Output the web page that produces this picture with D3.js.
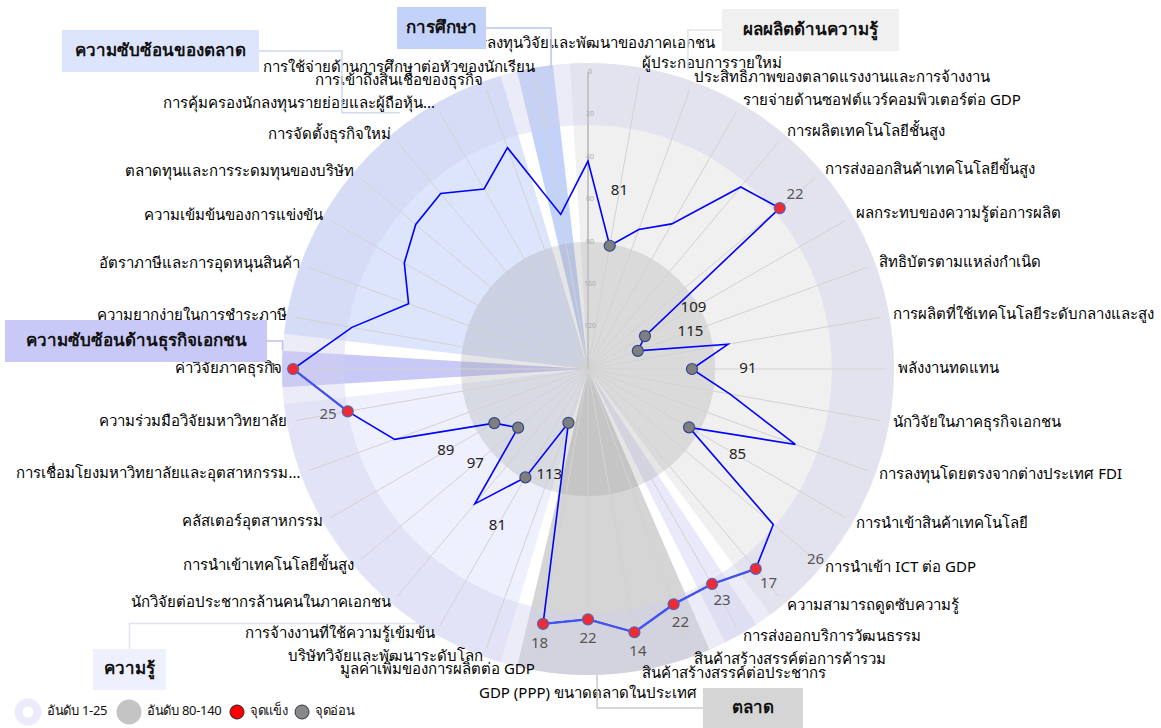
<!DOCTYPE html>
<html>
<head>
<meta charset="utf-8">
<script src="https://cdn.jsdelivr.net/npm/d3@7"></script>
<style>
body { margin: 0; background: #fff; font-family: "Noto Sans", sans-serif; }
</style>
</head>
<body>
<script>
// spokes, counter-clockwise from 3 o'clock
const spokeNames = [
  "พลังงานทดแทน", "การผลิตที่ใช้เทคโนโลยีระดับกลางและสูง", "สิทธิบัตรตามแหล่งกำเนิด",
  "ผลกระทบของความรู้ต่อการผลิต", "การส่งออกสินค้าเทคโนโลยีขั้นสูง", "การผลิตเทคโนโลยีชั้นสูง",
  "รายจ่ายด้านซอฟต์แวร์คอมพิวเตอร์ต่อ GDP", "ประสิทธิภาพของตลาดแรงงานและการจ้างงาน",
  "ผู้ประกอบการรายใหม่", "การลงทุนวิจัยและพัฒนาของภาคเอกชน",
  "การใช้จ่ายด้านการศึกษาต่อหัวของนักเรียน", "การเข้าถึงสินเชื่อของธุรกิจ",
  "การคุ้มครองนักลงทุนรายย่อยและผู้ถือหุ้น...", "การจัดตั้งธุรกิจใหม่", "ตลาดทุนและการระดมทุนของบริษัท",
  "ความเข้มข้นของการแข่งขัน", "อัตราภาษีและการอุดหนุนสินค้า", "ความยากง่ายในการชำระภาษี",
  "ค่าวิจัยภาคธุรกิจ", "ความร่วมมือวิจัยมหาวิทยาลัย",
  "การเชื่อมโยงมหาวิทยาลัยและอุตสาหกรรม...", "คลัสเตอร์อุตสาหกรรม",
  "การนำเข้าเทคโนโลยีขั้นสูง", "นักวิจัยต่อประชากรล้านคนในภาคเอกชน", "การจ้างงานที่ใช้ความรู้เข้มข้น",
  "บริษัทวิจัยและพัฒนาระดับโลก", "มูลค่าเพิ่มของการผลิตต่อ GDP", "GDP (PPP) ขนาดตลาดในประเทศ",
  "สินค้าสร้างสรรค์ต่อประชากร", "สินค้าสร้างสรรค์ต่อการค้ารวม", "การส่งออกบริการวัฒนธรรม",
  "ความสามารถดูดซับความรู้", "การนำเข้า ICT ต่อ GDP", "การนำเข้าสินค้าเทคโนโลยี",
  "การลงทุนโดยตรงจากต่างประเทศ FDI", "นักวิจัยในภาคธุรกิจเอกชน"
];
const spokeRanks = [
  91, 73, 115, 109, 22, 28, 61, 70, 81, 42,
  66, 29, 42, 32, 34, 40, 50, 27, 1, 25,
  43, 89, 97, 57, 81, 113, 18, 22, 14, 22,
  23, 17, 26, 85, 36, 72
];

const groupNames = ["ความซับซ้อนของตลาด", "การศึกษา", "ผลผลิตด้านความรู้", "ความซับซ้อนด้านธุรกิจเอกชน",
  "ความรู้", "ตลาด", "ผลผลิตเชิงสร้างสรรค์"];
const groupStart = [11, 10, 31, 18, 19, 26, 30];
const groupCount = [7, 1, 15, 1, 7, 4, 1];
const groupColors = ["#dde5fc", "#c2d2f9", "#f0f0f0", "#c9c9f7", "#eef0fd", "#d5d5d5", "#e9e9f9"];

const rankTicks = [0, 20, 40, 60, 80, 100, 120];
const legendNames = ["อันดับ 1-25", "อันดับ 80-140", "จุดแข็ง", "จุดอ่อน"];

const W = 1161, H = 728;
const cx = 588, cy = 369, R = 297, Rout = 306;

const svg = d3.select("body").append("svg")
  .attr("width", W).attr("height", H)
  .style("font-family", "'Noto Sans', sans-serif");

const n = spokeNames.length;
const ang = d3.scaleLinear().domain([0, n]).range([0, 2 * Math.PI]);
const r = d3.scaleLinear().domain([140, 0]).range([0, R]);
const px = (a, rr) => cx + rr * Math.cos(a);
const py = (a, rr) => cy - rr * Math.sin(a);
const step = 2 * Math.PI / n, pad = 1.6 * Math.PI / 180;
const arc = d3.arc();

const chart = svg.append("g");

// group sectors
groupNames.forEach((name, k) => {
  const a1 = ang(groupStart[k]) - step / 2 + pad;
  const a2 = ang(groupStart[k] + groupCount[k] - 1) + step / 2 - pad;
  chart.append("path")
    .attr("transform", `translate(${cx},${cy})`)
    .attr("d", arc({innerRadius: 0, outerRadius: Rout, startAngle: Math.PI / 2 - a2, endAngle: Math.PI / 2 - a1}))
    .attr("fill", groupColors[k]);
});

// rank bands
chart.append("path")
  .attr("transform", `translate(${cx},${cy})`)
  .attr("d", arc({innerRadius: r(25), outerRadius: Rout, startAngle: 0, endAngle: 2 * Math.PI}))
  .attr("fill", "#d0d0ee").attr("opacity", 0.4);
chart.append("circle")
  .attr("cx", cx).attr("cy", cy).attr("r", r(80))
  .attr("fill", "#999").attr("opacity", 0.25);

// spokes
chart.selectAll(".spoke").data(spokeRanks).enter().append("line")
  .attr("x1", cx).attr("y1", cy)
  .attr("x2", (d, i) => px(ang(i), R)).attr("y2", (d, i) => py(ang(i), R))
  .attr("stroke", "#d2d2d2").attr("stroke-width", 1);

// radial axis
chart.append("line")
  .attr("x1", cx).attr("y1", cy).attr("x2", cx).attr("y2", cy - r(0))
  .attr("stroke", "#c4c4c4").attr("stroke-width", 2);
chart.selectAll(".tick").data(rankTicks).enter().append("text")
  .attr("x", cx + 2).attr("y", d => cy - r(d))
  .attr("text-anchor", "middle").attr("dominant-baseline", "middle")
  .attr("font-size", 7).attr("fill", "#aaa")
  .text(d => d);

// profile line
const pts = spokeRanks.map((v, i) => [px(ang(i), r(v)), py(ang(i), r(v))]);
chart.append("path")
  .attr("d", d3.line().curve(d3.curveLinearClosed)(pts))
  .attr("fill", "none").attr("stroke", "#0000ff").attr("stroke-width", 1.6);
spokeRanks.forEach((v, i) => {
  const j = (i + 1) % n;
  if (v <= 25 && spokeRanks[j] <= 25) {
    chart.append("line")
      .attr("x1", pts[i][0]).attr("y1", pts[i][1]).attr("x2", pts[j][0]).attr("y2", pts[j][1])
      .attr("stroke", "#4455ee").attr("stroke-width", 2.2);
  }
});

// dots
const marked = spokeRanks.map((v, i) => ({v, i})).filter(d => d.v <= 25 || d.v >= 80);
chart.selectAll(".dot").data(marked).enter().append("circle")
  .attr("cx", d => px(ang(d.i), r(d.v))).attr("cy", d => py(ang(d.i), r(d.v)))
  .attr("r", 5.5)
  .attr("fill", d => d.v <= 25 ? "#ee2a35" : "#7f7f7f")
  .attr("stroke", d => d.v <= 25 ? "#5a64b0" : "#34488a").attr("stroke-width", 1.2);

// value labels (26 sits just outside the strength band, written at the rim)
const labelled = spokeRanks.map((v, i) => ({v, i})).filter(d => d.v <= 26 || d.v >= 80);
const labelR = d => d.v <= 25 ? r(d.v) + 20 : d.v >= 80 ? r(d.v) + 56 : R;
chart.selectAll(".val").data(labelled).enter().append("text")
  .attr("x", d => px(ang(d.i), labelR(d)))
  .attr("y", d => py(ang(d.i), labelR(d)))
  .attr("text-anchor", "middle").attr("dominant-baseline", "middle")
  .attr("font-size", 15).attr("fill", d => d.v >= 80 ? "#222" : "#555")
  .text(d => d.v);

// spoke labels
chart.selectAll(".lab").data(spokeNames).enter().append("text")
  .each(function (d, i) {
    const a = ang(i), c = Math.cos(a);
    const mid = Math.abs(c) < 0.05;
    const rr = mid ? 325 : (c > 0 ? 310 : 306);
    d3.select(this)
      .attr("x", px(a, rr)).attr("y", py(a, rr))
      .attr("text-anchor", mid ? "middle" : (c > 0 ? "start" : "end"))
      .attr("dominant-baseline", "middle")
      .attr("font-size", 15).attr("fill", "#000")
      .text(d);
  });

// group boxes with leader lines
const boxLayout = [
  {x: 62, y: 30, w: 197, h: 42, side: "right", mx: 342, ta: 126.3, tr: 318},
  {x: 397, y: 7, w: 89, h: 42, side: "right", ta: 97, tr: 303},
  {x: 722, y: 9, w: 177, h: 42, side: "left", ta: 71.5, tr: 315},
  {x: 5, y: 320, w: 262, h: 42, side: "right", ta: 176.5, tr: 306},
  {x: 93, y: 649, w: 73, h: 41, side: "top", ta: 238, tr: 300},
  {x: 703, y: 688, w: 100, h: 40, side: "left", ta: 271.7, tr: 306}
];
boxLayout.forEach((b, k) => {
  const a = b.ta * Math.PI / 180;
  const tx = px(a, b.tr), ty = py(a, b.tr);
  let sx, sy;
  if (b.side === "right") { sx = b.x + b.w; sy = b.y + b.h / 2; }
  else if (b.side === "left") { sx = b.x; sy = b.y + b.h / 2; }
  else { sx = b.x + b.w / 2; sy = b.y; }
  let path;
  if (b.mx !== undefined) path = [[sx, sy], [b.mx, sy], [b.mx, ty], [tx, ty]];
  else if (b.side === "top") path = [[sx, sy], [sx, ty], [tx, ty]];
  else path = [[sx, sy], [tx, sy], [tx, ty]];
  svg.append("path")
    .attr("d", d3.line()(path))
    .attr("fill", "none").attr("stroke", d3.color(groupColors[k]).darker(0.15)).attr("stroke-width", 1.5);
  svg.append("rect")
    .attr("x", b.x).attr("y", b.y).attr("width", b.w).attr("height", b.h)
    .attr("fill", groupColors[k]);
  svg.append("text")
    .attr("x", b.x + b.w / 2).attr("y", b.y + b.h / 2)
    .attr("text-anchor", "middle").attr("dominant-baseline", "middle")
    .attr("font-size", 17).attr("font-weight", "bold").attr("fill", "#111")
    .text(groupNames[k]);
});

// legend
const lg = svg.append("g").attr("transform", "translate(0,712)");
lg.append("circle").attr("cx", 28).attr("cy", 0).attr("r", 9.5)
  .attr("fill", "#fff").attr("stroke", "#ebebfb").attr("stroke-width", 8);
lg.append("circle").attr("cx", 129).attr("cy", 0).attr("r", 12.5).attr("fill", "#c4c4c4");
lg.append("circle").attr("cx", 237).attr("cy", 0).attr("r", 7).attr("fill", "#f00").attr("stroke", "#223").attr("stroke-width", 1);
lg.append("circle").attr("cx", 302).attr("cy", 0).attr("r", 7).attr("fill", "#888").attr("stroke", "#334").attr("stroke-width", 1);
const legendX = [47, 147, 250, 315];
legendNames.forEach((t, k) => {
  lg.append("text").attr("x", legendX[k]).attr("y", 0)
    .attr("dominant-baseline", "middle").attr("font-size", 13).attr("fill", "#111")
    .attr("letter-spacing", -0.3)
    .text(t);
});
</script>
</body>
</html>
